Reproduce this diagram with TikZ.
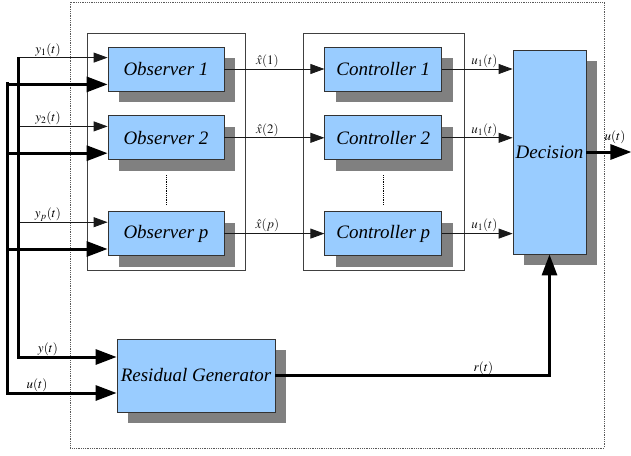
\documentclass[tikz,border=0pt]{standalone}
\usepackage{mathptmx}
\usepackage{fontspec}
\setmainfont{Liberation Serif}
\usepackage{xcolor}
\usetikzlibrary{positioning, shadows, arrows.meta, calc}
\definecolor{blockblue}{RGB}{153,204,255}

\begin{document}
\begin{tikzpicture}[x = 1pt, y = -1pt, node distance = 24pt]
    \tikzstyle{block} = [draw=black!80, line width=0.8pt, fill=blockblue, minimum width=116pt, minimum height=44pt, inner sep=0pt, font=\fontsize{19}{21}\selectfont\itshape, drop shadow={shadow xshift=11pt, shadow yshift=-11pt, fill=black!50, opacity=1}]
    \tikzstyle{sig} = [-{Triangle[length=14pt, width=10pt]}, line width=0.8pt, black!90]
    \tikzstyle{bus} = [line width=3pt, black]
    \tikzstyle{bigsig} = [bus, -{Triangle[length=21pt, width=15pt]}]
    \tikzstyle{lbl} = [font=\fontsize{13}{15}\selectfont, inner sep=1pt]
    \tikzstyle{group} = [draw=black!75, line width=0.8pt]
    \useasboundingbox (0,0) rectangle (631,455);

    % frame and the two groups
    \draw [densely dotted, black!65, line width=0.8pt] (70,2) rectangle (604,448);
    \draw [group] (87,33) rectangle (245,270);
    \draw [group] (303,33) rectangle (464,270);

    \node [block] (O1) at (166,69) {Observer 1};
    \node [block, below = of O1] (O2) {Observer 2};
    \node [block, below = 51pt of O2] (Op) {Observer p};

    \node [block, minimum width=117pt, right = 100pt of O1] (C1) {Controller 1};
    \node [block, minimum width=117pt, right = 100pt of O2] (C2) {Controller 2};
    \node [block, minimum width=117pt, right = 100pt of Op] (Cp) {Controller p};

    \node [block, minimum width=73pt, minimum height=204pt] (D) at (549.5,152) {Decision};
    \node [block, minimum width=158pt, minimum height=73pt] (R) at (196,375.5) {Residual Generator};

    \draw [densely dotted, line width=0.8pt] ([yshift=-15pt]O2.south) -- ([yshift=7pt]Op.north);
    \draw [densely dotted, line width=0.8pt] ([yshift=-15pt]C2.south) -- ([yshift=7pt]Cp.north);

    % input buses
    \coordinate (ytop) at (18,57);
    \coordinate (ybot) at (18,357);
    \coordinate (utop) at (7,82);
    \coordinate (ubot) at (7,393);

    \foreach \o/\k in {O1/1, O2/2, Op/p} {
        \coordinate (\o-in) at ($(\o.north west)+(0,11)$);
        \coordinate (\o-u) at ($(\o.south west)+(0,-7)$);
        \draw [sig] (ytop |- \o-in) -- (\o-in);
        \draw [bigsig] (utop |- \o-u) -- (\o-u);
        \node [lbl, above] (ly\k) at ($(ytop |- \o-in)+(30,0)$) {$y_{\k}(t)$};
    }
    \draw [bigsig] (ytop) -- (ybot) -- (R.west |- ybot);
    \draw [bigsig] (utop) -- (ubot) -- (R.west |- ubot);
    \node [lbl, above] (ly) at ($(ybot)+(30,0)$) {$y(t)$};
    \node [lbl, above] (lu) at ($(ubot)+(30,0)$) {$u(t)$};

    % observers to controllers to decision
    \foreach \k/\c in {1/1, 2/2, p/p} {
        \draw [sig] (O\k) -- node [lbl, above, pos=0.43] (lx\k) {$\hat{x}(\c)$} (C\k);
        \draw [sig] (C\k) -- node [lbl, above, pos=0.6] (lu\k) {$u_1(t)$} (C\k -| D.west);
    }

    % output and residual
    \coordinate [right = 45pt of D.east] (uout);
    \draw [bigsig] (D) -- (uout);
    \node [lbl, anchor=south west] (lout) at ($(D.east)+(17,-7)$) {$u(t)$};
    \draw [bigsig] (R.east) -- (R.east -| D.south) -- (D.south);
    \node [lbl, above] (lr) at ($(R.east)+(208,0)$) {$r(t)$};
\end{tikzpicture}
\end{document}
